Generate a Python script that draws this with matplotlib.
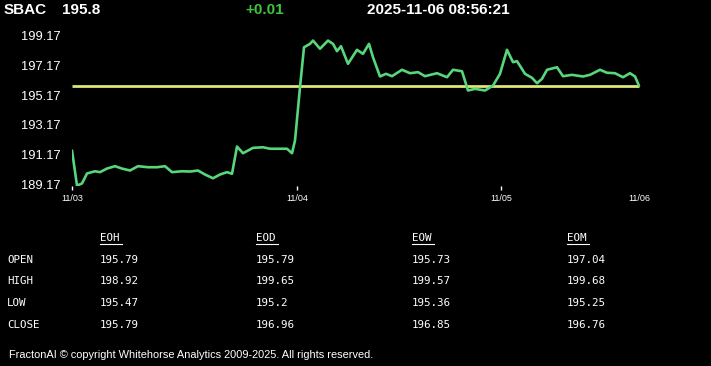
import matplotlib
matplotlib.use("Agg")
import matplotlib.pyplot as plt

# ---- header ----
symbol = "SBAC"
last_price = "195.8"
change = "+0.01"
timestamp = "2025-11-06 08:56:21"

# ---- price series (session time units, price) ----
t = [0, 5, 10, 15, 23, 28, 35, 43, 50, 58, 66, 76, 85, 93, 100, 110, 118, 126,
     133, 141, 148, 155, 160, 165, 171, 181, 191, 198, 208, 215, 220, 223, 228,
     232, 238, 241, 248, 256, 261, 265, 269, 276, 285, 291, 297, 301, 308, 314,
     320, 330, 338, 346, 353, 365, 375, 381, 390, 396, 403, 413, 421, 428, 435,
     441, 445, 453, 460, 465, 470, 475, 485, 491, 500, 511, 518, 528, 535, 543,
     551, 558, 563, 567]
price = [191.45, 189.10, 189.24, 189.91, 190.06, 190.00, 190.24, 190.40, 190.24,
         190.11, 190.40, 190.33, 190.33, 190.40, 190.00, 190.06, 190.04, 190.11,
         189.84, 189.59, 189.84, 190.00, 189.89, 191.72, 191.27, 191.63, 191.67,
         191.57, 191.57, 191.57, 191.27, 192.12, 195.70, 198.38, 198.61, 198.83,
         198.28, 198.83, 198.61, 198.12, 198.45, 197.27, 198.21, 197.94, 198.61,
         197.71, 196.42, 196.60, 196.44, 196.87, 196.64, 196.71, 196.44, 196.64,
         196.37, 196.87, 196.77, 195.48, 195.59, 195.48, 195.81, 196.60, 198.21,
         197.38, 197.45, 196.60, 196.33, 195.97, 196.26, 196.87, 197.04, 196.44,
         196.53, 196.42, 196.53, 196.87, 196.67, 196.64, 196.37, 196.64, 196.42,
         195.80]
ref_price = 195.79

date_ticks = [0, 225, 429, 567]
date_labels = ["11/03", "11/04", "11/05", "11/06"]
y_ticks = [189.17, 191.17, 193.17, 195.17, 197.17, 199.17]

# ---- table ----
col_headers = ["EOH", "EOD", "EOW", "EOM"]
row_labels = ["OPEN", "HIGH", "LOW", "CLOSE"]
eoh = ["195.79", "198.92", "195.47", "195.79"]
eod = ["195.79", "199.65", "195.2", "196.96"]
eow = ["195.73", "199.57", "195.36", "196.85"]
eom = ["197.04", "199.68", "195.25", "196.76"]
footer = "FractonAI \u00a9 copyright Whitehorse Analytics 2009-2025. All rights reserved."

W, H = 711, 366
fig = plt.figure(figsize=(W / 100, H / 100), dpi=100, facecolor="black")

def fx(px):
    return px / W

def fy(py):
    return 1 - py / H

# axes: x px 72..645, y px 30..186
ax = fig.add_axes([fx(72), fy(186), fx(645 - 72), (186 - 30) / H], facecolor="black")
ax.plot(t, price, color="#57d67c", lw=1.9, solid_joinstyle="round",
        solid_capstyle="round", zorder=3)
ax.hlines(ref_price, t[0], t[-1], color="#dde676", lw=2.0, zorder=2)
ax.set_xlim(0, 573)
ax.set_ylim(189.07, 199.54)
for s in ax.spines.values():
    s.set_visible(False)
ax.set_yticks(y_ticks)
ax.set_yticklabels([f"{v:.2f}" for v in y_ticks])
ax.tick_params(axis="y", length=0, pad=8, labelcolor="white", labelsize=9.3)
ax.set_xticks(date_ticks)
ax.set_xticklabels(date_labels)
ax.tick_params(axis="x", length=3, width=1, color="white", pad=3,
               labelcolor="white", labelsize=6.5, direction="out")
ax.xaxis.get_major_ticks()[3].tick1line.set_visible(False)
for lab in ax.get_yticklabels() + ax.get_xticklabels():
    lab.set_fontfamily("Liberation Sans")

# header
hdr = dict(color="white", fontsize=11, fontweight="bold", family="Liberation Sans",
           va="center", ha="left")
fig.text(fx(4), fy(10), symbol, **hdr)
fig.text(fx(62), fy(10), last_price, **hdr)
fig.text(fx(245), fy(10), change, **{**hdr, "color": "#3ec43e"})
fig.text(fx(367), fy(10), timestamp, **hdr)

# table
mono = dict(color="white", fontsize=7.8, family="DejaVu Sans Mono", va="center", ha="left")
col_x = [100, 256, 412, 567]
row_y = [260, 281, 303, 325]
for cx, hname in zip(col_x, col_headers):
    fig.text(fx(cx), fy(238), hname, **mono)
    fig.add_artist(plt.Line2D([fx(cx), fx(cx + 22)], [fy(244), fy(244)],
                              color="white", lw=0.8))
for ry, rl in zip(row_y, row_labels):
    fig.text(fx(7), fy(ry), rl, **mono)
for cx, col in zip(col_x, [eoh, eod, eow, eom]):
    for ry, v in zip(row_y, col):
        fig.text(fx(cx), fy(ry), v, **mono)

fig.text(fx(9), fy(355), footer, color="white", fontsize=7.9,
         family="Liberation Sans", va="center", ha="left")

fig.savefig("out.png", dpi=100, facecolor="black")
